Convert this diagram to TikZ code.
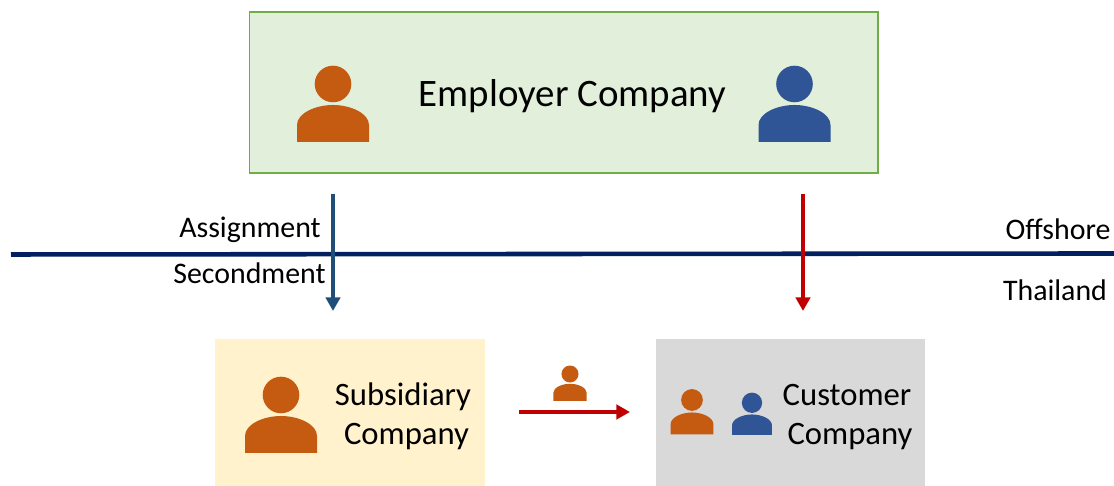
\documentclass[tikz,border=0pt]{standalone}
\usepackage{fontspec}
\setmainfont{Carlito}
\usetikzlibrary{arrows.meta}
\definecolor{orangeP}{HTML}{C55A11}
\definecolor{blueP}{HTML}{2F5597}
\definecolor{redA}{HTML}{C00000}
\definecolor{blueA}{HTML}{1F4E79}
\definecolor{navyL}{HTML}{002060}
\definecolor{greenB}{HTML}{E2EFDA}
\definecolor{greenD}{HTML}{70AD47}
\definecolor{yellowB}{HTML}{FFF2CC}
\definecolor{grayB}{HTML}{D9D9D9}
\tikzset{
  company/.style={inner sep=0pt, outer sep=0pt},
  sidetext/.style={inner sep=0pt, font=\fontsize{8.5}{10}\selectfont},
  boxtext/.style={inner sep=0pt, anchor=base, font=\fontsize{9.3}{11.1}\selectfont},
  flow/.style={line width=1.35pt, -{Triangle[length=3.9pt,width=4.1pt]}},
  pics/person/.style={code={
    \fill[#1] (0,0.58) circle (0.183);
    \fill[#1] (-0.36,0) -- (-0.36,0.17) .. controls (-0.36,0.29) and (-0.17,0.37) .. (0,0.37)
      .. controls (0.17,0.37) and (0.36,0.29) .. (0.36,0.17) -- (0.36,0) -- cycle;
  }}
}
\begin{document}
\begin{tikzpicture}
\useasboundingbox (0,0) rectangle (11.14,4.86);
\coordinate[](L) at (0.11,2.315);
\coordinate[](R) at (11.14,2.325);
\coordinate[](A) at (3.33,2.92);
\coordinate[](B) at (3.33,1.75);
\coordinate[](C) at (8.03,2.92);
\coordinate[](D) at (8.03,1.75);
\coordinate[](E) at (5.19,0.74);
\coordinate[](F) at (6.30,0.74);

% boxes
\node[company, draw=greenD, line width=0.45pt, fill=greenB, minimum width=6.285cm, minimum height=1.61cm] (employer) at (5.6375,3.935) {};
\node[company, fill=yellowB, minimum width=2.70cm, minimum height=1.47cm] (subsidiary) at (3.50,0.735) {};
\node[company, fill=grayB, minimum width=2.69cm, minimum height=1.47cm] (customer) at (7.905,0.735) {};

% texts
\node[inner sep=0pt, font=\fontsize{11.07}{13}\selectfont] (employertext) at (5.725,3.90) {Employer Company};
\node[boxtext] (subsidiarytext) at (4.03,0.80) {Subsidiary};
\node[boxtext] (subcompanytext) at (4.065,0.41) {Company};
\node[boxtext] (customertext) at (8.47,0.80) {Customer};
\node[boxtext] (cuscompanytext) at (8.50,0.41) {Company};
\node[sidetext] (assignment) at (2.50,2.56) {Assignment};
\node[sidetext] (secondment) at (2.495,2.13) {Secondment};
\node[sidetext] (offshore) at (10.58,2.565) {Offshore};
\node[sidetext] (thailand) at (10.55,1.96) {Thailand};

% people
\pic at (3.33,3.44) {person=orangeP};
\pic at (7.945,3.44) {person=blueP};
\pic at (2.81,0.33) {person=orangeP};
\pic[scale=0.465] at (5.70,0.85) {person=orangeP};
\pic[scale=0.595] at (6.92,0.515) {person=orangeP};
\pic[scale=0.555] at (7.52,0.51) {person=blueP};

% lines
\path[draw, navyL, line width=1.3pt] (L)--(R);
\path[draw, blueA, flow] (A)--(B);
\path[draw, redA, flow] (C)--(D);
\path[draw, redA, flow] (E)--(F);
\end{tikzpicture}
\end{document}
